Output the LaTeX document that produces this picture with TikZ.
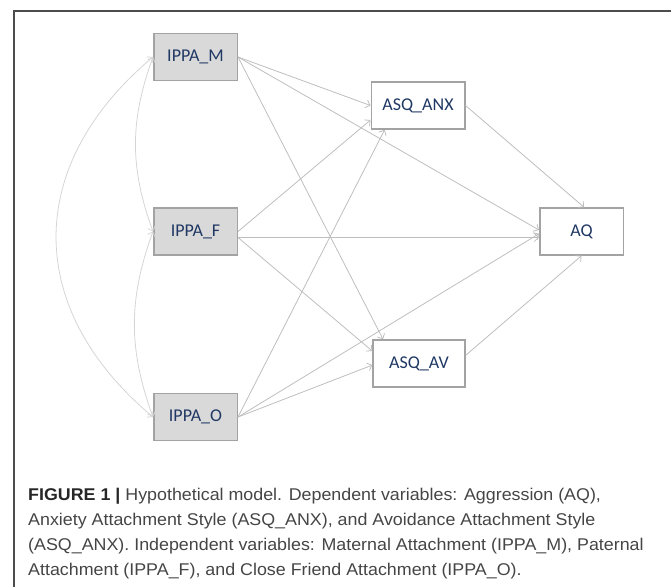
\documentclass[tikz,border=0pt]{standalone}
\usepackage{fontspec}
\usepackage{xcolor}
\usepackage{tikz}
\usetikzlibrary{arrows.meta, positioning, calc}
\newfontfamily\boxfont{Carlito}
\newfontfamily\capfont[FakeStretch=1.05]{Liberation Sans}
\definecolor{labelnavy}{HTML}{1F3864}
\definecolor{boxgray}{HTML}{D9D9D9}
\definecolor{edgegray}{HTML}{A3A3A3}
\definecolor{linkgray}{HTML}{BEBEBE}
\definecolor{covgray}{HTML}{D5D5D5}
\definecolor{captext}{HTML}{454545}

\begin{document}
\begin{tikzpicture}[
    x=1pt, y=-1pt,
    every node/.style={font=\boxfont\fontsize{18}{21}\selectfont, text=labelnavy},
    var/.style={rectangle, draw=edgegray, line width=1.5pt, fill=#1,
                minimum width=83.5pt, minimum height=47pt, inner sep=0pt},
    var/.default=white,
    arr/.style={-{Straight Barb[length=4pt,width=8pt]}, line width=0.8pt, color=linkgray},
    cov/.style={{Straight Barb[length=4pt,width=8pt]}-{Straight Barb[length=4pt,width=8pt]},
                line width=0.8pt, color=covgray},
]
    \useasboundingbox (0,0) rectangle (671,587);
    \draw[line width=1.5pt, color=black!70] (671,11) -- (14,11) -- (14,587);

    \node[var=boxgray] (m) at (195.5,57) {IPPA\_M};
    \node[var=boxgray, below=126pt of m] (f) {IPPA\_F};
    \node[var=boxgray, below=137pt of f] (o) {IPPA\_O};

    \node[var, minimum width=93.5pt] (anx) at (418,105.5) {ASQ\_ANX};
    \node[var, right=301pt of f] (aq) {AQ};
    \node[var, minimum width=92pt] (av) at (419,363.5) {ASQ\_AV};

    \draw[cov] (m.west) to[out=220, in=140, looseness=1.2] (o.west);
    \draw[cov] (m.west) to[out=250, in=110] (f.west);
    \draw[cov] (f.west) to[out=250, in=110] (o.west);

    \draw[arr] (m.east) -- (anx.west);
    \draw[arr] (m.east) -- (aq.178);
    \draw[arr] (m.east) -- (av.146);
    \draw[arr] (f.east) -- (anx.197);
    \draw[arr] (f.352) -- (aq.188);
    \draw[arr] (f.352) -- (av.165);
    \draw[arr] (o.east) -- (anx.216);
    \draw[arr] (o.east) -- (aq.183);
    \draw[arr] (o.east) -- (av.182);
    \draw[arr] (anx.east) -- (aq.84);
    \draw[arr] (av.10) -- (aq.south);

    \node[anchor=north west, inner sep=0pt, align=left, text=captext,
          font=\capfont\fontsize{17}{25.3}\selectfont] (cap) at (28,487.5)
        {{\color{black!85}\textbf{FIGURE 1 |}} Hypothetical model. Dependent variables: Aggression (AQ),\\
         Anxiety Attachment Style (ASQ\_ANX), and Avoidance Attachment Style\\
         (ASQ\_ANX). Independent variables: Maternal Attachment (IPPA\_M), Paternal\\
         Attachment (IPPA\_F), and Close Friend Attachment (IPPA\_O).};
\end{tikzpicture}
\end{document}
